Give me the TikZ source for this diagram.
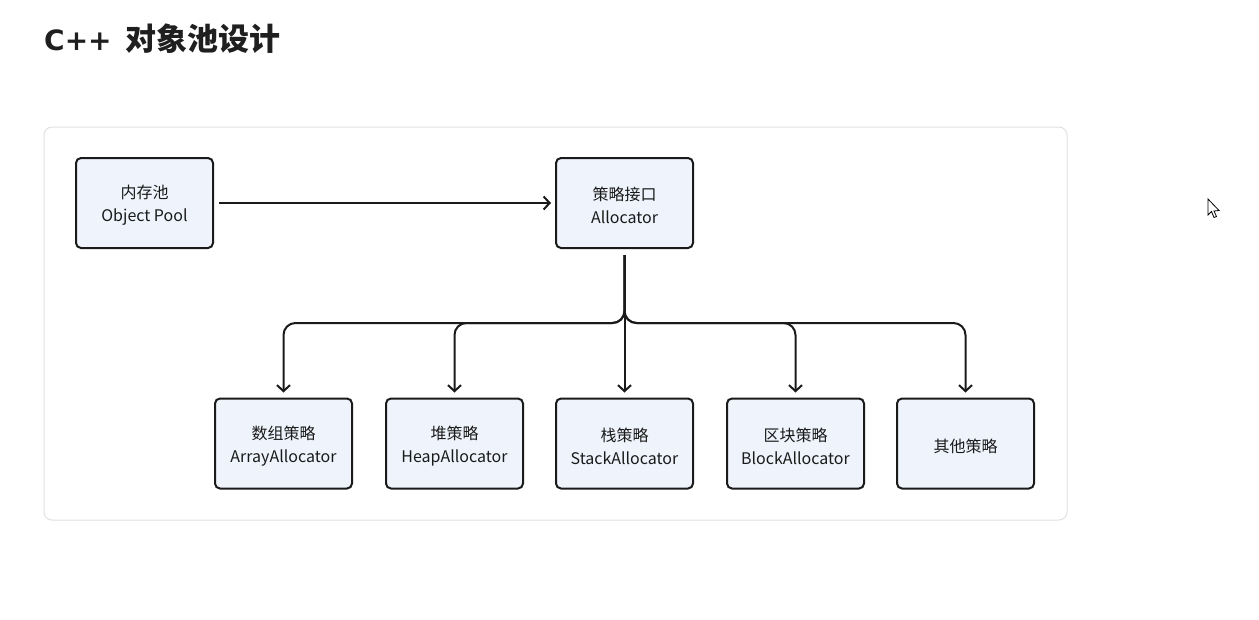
\documentclass[tikz,border=0pt]{standalone}
\usepackage{fontspec}
\setmainfont{Noto Sans CJK SC}
\newfontfamily\titlelatin{DejaVu Sans}
\usetikzlibrary{arrows.meta}
\definecolor{boxfill}{HTML}{EFF4FC}
\definecolor{boxline}{HTML}{1A1A1A}
\definecolor{frameline}{HTML}{E0E0E0}
\definecolor{titlecol}{HTML}{1F1F1F}
\newcommand\lowerln[1]{\raisebox{-2.5pt}[\height][\depth]{#1}}
\tikzset{
  boxnode/.style={draw=boxline, line width=2pt, fill=boxfill, rounded corners=5pt,
    minimum width=137pt, minimum height=90pt, inner sep=0pt, align=center,
    font=\fontsize{16pt}{23pt}\selectfont, text=boxline},
  conn/.style={draw=boxline, line width=2pt, rounded corners=12pt,
    -{Straight Barb[length=6pt,width=13pt,line width=2pt]}},
}
\begin{document}
\begin{tikzpicture}[x=1pt,y=-1pt]
\useasboundingbox (0,0) rectangle (1259,619);
% title
\node[anchor=base west, inner sep=0pt, text=titlecol, font=\fontsize{31pt}{36pt}\selectfont\bfseries] (title) at (44,50)
  {{\titlelatin\fontsize{28pt}{34pt}\selectfont\bfseries C++}\hspace{14pt}对象池设计};
% frame
\draw[frameline, line width=1pt, rounded corners=8pt] (44,127) rectangle (1067,520);
% nodes
\node[boxnode] (pool)  at (144.5,203) {\lowerln{内存池}\\\lowerln{Object Pool}};
\node[boxnode] (alloc) at (624.5,203) {\lowerln{策略接口}\\\lowerln{Allocator}};
\node[boxnode] (a1) at (283.5,443.5) {\lowerln{数组策略}\\\lowerln{ArrayAllocator}};
\node[boxnode] (a2) at (454.5,443.5) {\lowerln{堆策略}\\\lowerln{HeapAllocator}};
\node[boxnode] (a3) at (624.5,443.5) {\lowerln{栈策略}\\\lowerln{StackAllocator}};
\node[boxnode] (a4) at (795.5,443.5) {\lowerln{区块策略}\\\lowerln{BlockAllocator}};
\node[boxnode] (a5) at (965.5,443.5) {\lowerln{其他策略}};
\coordinate (split) at (624.5,323);
% connectors
\draw[conn, shorten <=5pt, shorten >=4pt] (pool.east) -- (alloc.west);
\draw[conn, shorten <=6pt, shorten >=5pt] (alloc.south) -- (split) -| (a1.north);
\draw[conn, shorten <=6pt, shorten >=5pt] (alloc.south) -- (split) -| (a2.north);
\draw[conn, shorten <=6pt, shorten >=5pt] (alloc.south) -- (a3.north);
\draw[conn, shorten <=6pt, shorten >=5pt] (alloc.south) -- (split) -| (a4.north);
\draw[conn, shorten <=6pt, shorten >=5pt] (alloc.south) -- (split) -| (a5.north);
% mouse cursor
\draw[black, fill=white, line width=0.8pt, line join=miter]
  (1208,199) -- (1208,215) -- (1211.5,211.5) -- (1214,217.5) -- (1216.5,216.5) -- (1214,211) -- (1219,210.5) -- cycle;
\end{tikzpicture}
\end{document}
